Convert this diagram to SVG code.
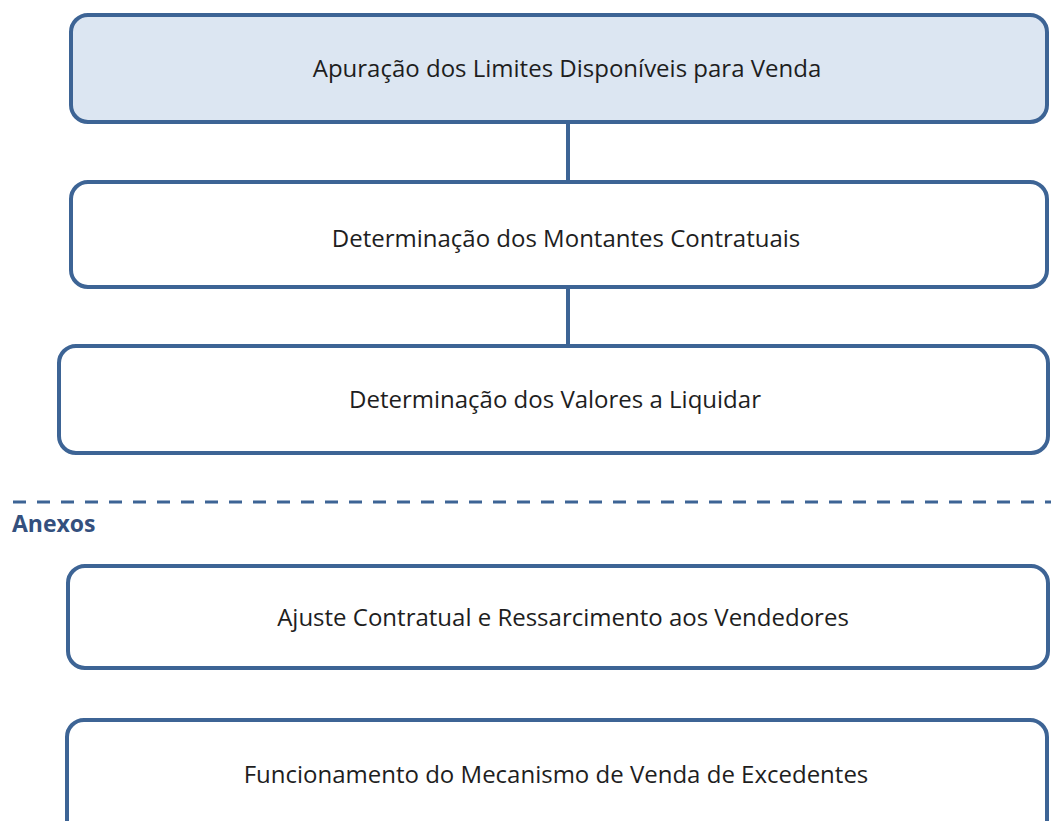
<svg xmlns="http://www.w3.org/2000/svg" width="1051" height="821" viewBox="0 0 1051 821">
<style>
.box{fill:#ffffff;stroke:#3d6495;stroke-width:4}
.hl{fill:#dce6f2}
.lbl{font-family:"Open Sans","Noto Sans",sans-serif;font-size:24px;fill:#1e1e1e;text-anchor:middle}
.con{stroke:#3d6495;stroke-width:4;fill:none}
</style>
<rect width="1051" height="821" fill="#ffffff"/>
<g id="connectors">
<line class="con" x1="568" y1="122" x2="568" y2="182"/>
<line class="con" x1="568" y1="287" x2="568" y2="346"/>
</g>
<g id="n1"><rect class="box hl" x="71" y="15" width="976" height="107" rx="17"/><text class="lbl" x="567" y="77">Apuração dos Limites Disponíveis para Venda</text></g>
<g id="n2"><rect class="box" x="71" y="182" width="976" height="105" rx="17"/><text class="lbl" x="566" y="247">Determinação dos Montantes Contratuais</text></g>
<g id="n3"><rect class="box" x="59" y="346" width="989" height="107" rx="17"/><text class="lbl" x="555" y="408">Determinação dos Valores a Liquidar</text></g>
<g id="sep">
<line x1="13" y1="502" x2="1051" y2="502" stroke="#3d6495" stroke-width="3" stroke-dasharray="13 11"/>
<text x="12" y="532" font-family="'Open Sans','Noto Sans',sans-serif" font-size="23" font-weight="bold" fill="#34507e">Anexos</text>
</g>
<g id="n4"><rect class="box" x="68" y="566" width="980" height="102" rx="17"/><text class="lbl" x="563" y="626">Ajuste Contratual e Ressarcimento aos Vendedores</text></g>
<g id="n5"><rect class="box" x="67" y="720" width="980" height="120" rx="17"/><text class="lbl" x="556" y="783">Funcionamento do Mecanismo de Venda de Excedentes</text></g>
</svg>
